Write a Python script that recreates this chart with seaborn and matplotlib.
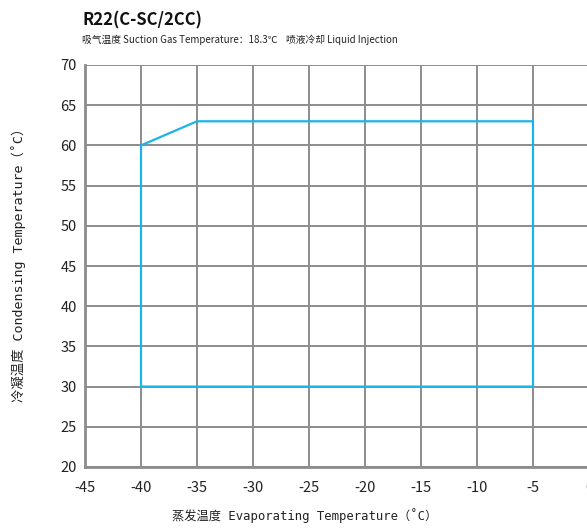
import matplotlib
matplotlib.use("Agg")
import matplotlib.pyplot as plt
import seaborn as sns
import pandas as pd

# Data
evap_temp = [-40, -40, -35, -5, -5, -40]
cond_temp = [30, 60, 63, 63, 30, 30]
x_ticks = [-45, -40, -35, -30, -25, -20, -15, -10, -5, 0]
y_ticks = [20, 25, 30, 35, 40, 45, 50, 55, 60, 65, 70]
title = "R22(C-SC/2CC)"
subtitle = "吸气温度 Suction Gas Temperature：18.3℃    喷液冷却 Liquid Injection"
xlabel = "蒸发温度 Evaporating Temperature（˚C）"
ylabel = "冷凝温度 Condensing Temperature（˚C）"

sns.set_style("white")
plt.rcParams['font.family'] = ['Noto Sans CJK SC', 'DejaVu Sans']

df = pd.DataFrame({"evap": evap_temp, "cond": cond_temp})

fig = plt.figure(figsize=(5.87, 5.28), dpi=100)
ax = fig.add_axes([85/587, 1-467/528, (589-85)/587, (467-65)/528])

sns.lineplot(data=df, x="evap", y="cond", sort=False, estimator=None,
             color="#1ab4e8", linewidth=1.6, ax=ax, zorder=3)

ax.set_xlim(-45, 0)
ax.set_ylim(20, 70)
ax.set_xticks(x_ticks)
ax.set_yticks(y_ticks)
ax.set_xticklabels([str(v) for v in x_ticks])
ax.set_yticklabels([str(v) for v in y_ticks])
ax.grid(True, color="#8c8c8c", linewidth=1.4)
ax.set_axisbelow(True)
for s in ["top", "right"]:
    ax.spines[s].set_visible(False)
for s in ["left", "bottom"]:
    ax.spines[s].set_color("#8c8c8c")
    ax.spines[s].set_linewidth(2.0)
ax.tick_params(axis="both", length=0, labelsize=10.5, colors="#222222")
ax.tick_params(axis="x", pad=10)
ax.tick_params(axis="y", pad=6)
ax.set_xlabel("")
ax.set_ylabel("")

label_font = ['DejaVu Sans Mono', 'Noto Sans CJK SC']
fig.text(305/587, 1-516/528, xlabel, fontsize=8.8, family=label_font,
         ha="center", va="center", color="#222222")
fig.text(19/587, 1-262/528, ylabel, fontsize=9.6, family=label_font,
         ha="center", va="center", rotation=90, color="#222222")

fig.text(82/587, 1-20/528, title, fontsize=12, fontweight="bold", va="center", ha="left", color="#111111")
fig.text(82/587, 1-40/528, subtitle, fontsize=7.0, va="center", ha="left", color="#222222")

fig.savefig("out.png", dpi=100)
